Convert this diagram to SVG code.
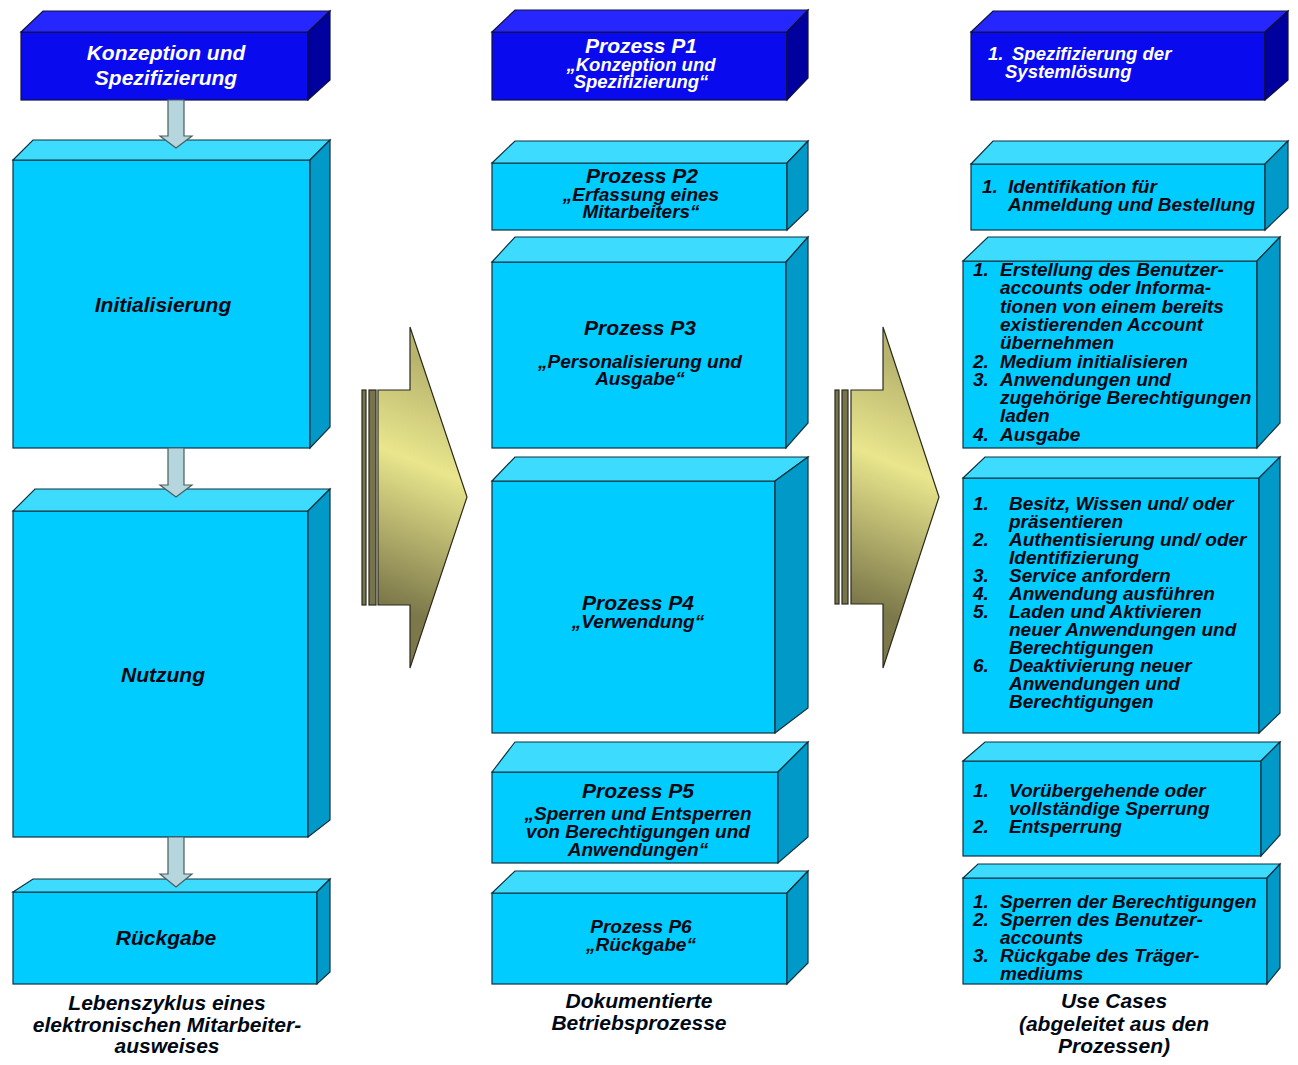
<svg xmlns="http://www.w3.org/2000/svg" width="1298" height="1065" viewBox="0 0 1298 1065">
<style>
.cf{fill:#00CCFF;stroke:#10303c;stroke-width:1.2}
.ct{fill:#3DDCFF;stroke:#10303c;stroke-width:1.2}
.cs{fill:#0099C8;stroke:#10303c;stroke-width:1.2}
.bf{fill:#0A0AEE;stroke:#10103c;stroke-width:1.2}
.bt{fill:#2626FF;stroke:#10103c;stroke-width:1.2}
.bs{fill:#00009E;stroke:#10103c;stroke-width:1.2}
text{font-family:"Liberation Sans",Arial,sans-serif;font-weight:bold;font-style:italic}
.k{fill:#000814}
.w{fill:#ffffff}
.c{text-anchor:middle}
.f21{font-size:21px}
.f19{font-size:19px}
.f18{font-size:18.5px}
.sa{fill:#B4D6DC;stroke:#4a5c60;stroke-width:1.2}
.bar{fill:#77734A;stroke:#2a2a1e;stroke-width:1.2}
.big{stroke:#2a2a1e;stroke-width:1.2}
</style>
<defs>
<linearGradient id="g1" gradientUnits="userSpaceOnUse" x1="378" y1="600" x2="467" y2="380">
<stop offset="0" stop-color="#7C784A"/>
<stop offset="0.6" stop-color="#E9E68D"/>
<stop offset="1" stop-color="#B8B46E"/>
</linearGradient>
<linearGradient id="g2" gradientUnits="userSpaceOnUse" x1="851" y1="600" x2="940" y2="380">
<stop offset="0" stop-color="#7C784A"/>
<stop offset="0.6" stop-color="#E9E68D"/>
<stop offset="1" stop-color="#B8B46E"/>
</linearGradient>
</defs>
<rect width="1298" height="1065" fill="#ffffff"/>

<!-- Left column -->
<g id="left-header">
<rect class="bf" x="21" y="32" width="287" height="68"/>
<polygon class="bt" points="21,32 43,11 330,11 308,32"/>
<polygon class="bs" points="308,32 330,11 330,80 308,100"/>
<text class="w c f21" x="166" y="60">Konzeption und</text>
<text class="w c f21" x="166" y="85">Spezifizierung</text>
</g>
<g id="initialisierung">
<rect class="cf" x="13" y="160" width="297" height="288"/>
<polygon class="ct" points="13,160 33,140 330,140 310,160"/>
<polygon class="cs" points="310,160 330,140 330,427 310,448"/>
<text class="k c f21" x="163" y="312">Initialisierung</text>
</g>
<g id="nutzung">
<rect class="cf" x="13" y="511" width="295" height="326"/>
<polygon class="ct" points="13,511 35,489 330,489 308,511"/>
<polygon class="cs" points="308,511 330,489 330,820 308,837"/>
<text class="k c f21" x="163" y="682">Nutzung</text>
</g>
<g id="rueckgabe">
<rect class="cf" x="13" y="892" width="304" height="92"/>
<polygon class="ct" points="13,892 33,879 330,879 317,892"/>
<polygon class="cs" points="317,892 330,879 330,972 317,984"/>
<text class="k c f21" x="166" y="945">Rückgabe</text>
</g>
<g id="caption-left">
<text class="k c f21" x="167" y="1010">Lebenszyklus eines</text>
<text class="k c f21" x="167" y="1032">elektronischen Mitarbeiter-</text>
<text class="k c f21" x="167" y="1053">ausweises</text>
</g>

<!-- Middle column -->
<g id="p1">
<rect class="bf" x="492" y="32" width="295" height="68"/>
<polygon class="bt" points="492,32 515,10 808,10 787,32"/>
<polygon class="bs" points="787,32 808,10 808,78 787,100"/>
<text class="w c f21" x="641" y="53">Prozess P1</text>
<text class="w c f18" x="641" y="71">„Konzeption und</text>
<text class="w c f18" x="641" y="88">Spezifizierung“</text>
</g>
<g id="p2">
<rect class="cf" x="492" y="163" width="295" height="67"/>
<polygon class="ct" points="492,163 515,141 808,141 787,163"/>
<polygon class="cs" points="787,163 808,141 808,210 787,230"/>
<text class="k c f21" x="642" y="183">Prozess P2</text>
<text class="k c f19" x="641" y="201">„Erfassung eines</text>
<text class="k c f19" x="641" y="218">Mitarbeiters“</text>
</g>
<g id="p3">
<rect class="cf" x="492" y="262" width="294" height="186"/>
<polygon class="ct" points="492,262 515,237 808,237 786,262"/>
<polygon class="cs" points="786,262 808,237 808,423 786,448"/>
<text class="k c f21" x="640" y="335">Prozess P3</text>
<text class="k c f19" x="640" y="368">„Personalisierung und</text>
<text class="k c f19" x="640" y="385">Ausgabe“</text>
</g>
<g id="p4">
<rect class="cf" x="492" y="481" width="283" height="252"/>
<polygon class="ct" points="492,481 515,457 808,457 775,481"/>
<polygon class="cs" points="775,481 808,457 808,708 775,733"/>
<text class="k c f21" x="638" y="610">Prozess P4</text>
<text class="k c f19" x="638" y="628">„Verwendung“</text>
</g>
<g id="p5">
<rect class="cf" x="492" y="772" width="286" height="91"/>
<polygon class="ct" points="492,772 515,742 808,742 778,772"/>
<polygon class="cs" points="778,772 808,742 808,837 778,863"/>
<text class="k c f21" x="638" y="798">Prozess P5</text>
<text class="k c f19" x="638" y="820">„Sperren und Entsperren</text>
<text class="k c f19" x="638" y="838">von Berechtigungen und</text>
<text class="k c f19" x="638" y="856">Anwendungen“</text>
</g>
<g id="p6">
<rect class="cf" x="492" y="893" width="295" height="91"/>
<polygon class="ct" points="492,893 515,871 808,871 787,893"/>
<polygon class="cs" points="787,893 808,871 808,963 787,984"/>
<text class="k c f19" x="641" y="933">Prozess P6</text>
<text class="k c f19" x="641" y="951">„Rückgabe“</text>
</g>
<g id="caption-middle">
<text class="k c f21" x="639" y="1008">Dokumentierte</text>
<text class="k c f21" x="639" y="1030">Betriebsprozesse</text>
</g>

<!-- Right column -->
<g id="uc-header">
<rect class="bf" x="971" y="32" width="294" height="68"/>
<polygon class="bt" points="971,32 993,11 1288,11 1265,32"/>
<polygon class="bs" points="1265,32 1288,11 1288,80 1265,100"/>
<text class="w f18" x="988" y="60">1.</text>
<text class="w f18" x="1012" y="60">Spezifizierung der</text>
<text class="w f18" x="1005" y="78">Systemlösung</text>
</g>
<g id="uc1">
<rect class="cf" x="971" y="164" width="294" height="66"/>
<polygon class="ct" points="971,164 993,141 1288,141 1265,164"/>
<polygon class="cs" points="1265,164 1288,141 1288,208 1265,230"/>
<text class="k f19" x="982" y="193">1.</text>
<text class="k f19" x="1008" y="193">Identifikation für</text>
<text class="k f19" x="1008" y="211">Anmeldung und Bestellung</text>
</g>
<g id="uc2">
<rect class="cf" x="963" y="261" width="294" height="187"/>
<polygon class="ct" points="963,261 988,237 1280,237 1257,261"/>
<polygon class="cs" points="1257,261 1280,237 1280,423 1257,448"/>
<text class="k f19" x="973" y="276">1.</text>
<text class="k f19" x="1000" y="276">Erstellung des Benutzer-</text>
<text class="k f19" x="1000" y="294.3">accounts oder Informa-</text>
<text class="k f19" x="1000" y="312.6">tionen von einem bereits</text>
<text class="k f19" x="1000" y="330.9">existierenden Account</text>
<text class="k f19" x="1000" y="349.2">übernehmen</text>
<text class="k f19" x="973" y="367.5">2.</text>
<text class="k f19" x="1000" y="367.5">Medium initialisieren</text>
<text class="k f19" x="973" y="385.8">3.</text>
<text class="k f19" x="1000" y="385.8">Anwendungen und</text>
<text class="k f19" x="1000" y="404.1">zugehörige Berechtigungen</text>
<text class="k f19" x="1000" y="422.4">laden</text>
<text class="k f19" x="973" y="440.7">4.</text>
<text class="k f19" x="1000" y="440.7">Ausgabe</text>
</g>
<g id="uc3">
<rect class="cf" x="963" y="478" width="296" height="255"/>
<polygon class="ct" points="963,478 985,457 1280,457 1259,478"/>
<polygon class="cs" points="1259,478 1280,457 1280,713 1259,733"/>
<text class="k f19" x="973" y="510">1.</text>
<text class="k f19" x="1009" y="510">Besitz, Wissen und/ oder</text>
<text class="k f19" x="1009" y="528">präsentieren</text>
<text class="k f19" x="973" y="546">2.</text>
<text class="k f19" x="1009" y="546">Authentisierung und/ oder</text>
<text class="k f19" x="1009" y="564">Identifizierung</text>
<text class="k f19" x="973" y="582">3.</text>
<text class="k f19" x="1009" y="582">Service anfordern</text>
<text class="k f19" x="973" y="600">4.</text>
<text class="k f19" x="1009" y="600">Anwendung ausführen</text>
<text class="k f19" x="973" y="618">5.</text>
<text class="k f19" x="1009" y="618">Laden und Aktivieren</text>
<text class="k f19" x="1009" y="636">neuer Anwendungen und</text>
<text class="k f19" x="1009" y="654">Berechtigungen</text>
<text class="k f19" x="973" y="672">6.</text>
<text class="k f19" x="1009" y="672">Deaktivierung neuer</text>
<text class="k f19" x="1009" y="690">Anwendungen und</text>
<text class="k f19" x="1009" y="708">Berechtigungen</text>
</g>
<g id="uc4">
<rect class="cf" x="963" y="761" width="298" height="95"/>
<polygon class="ct" points="963,761 985,742 1280,742 1261,761"/>
<polygon class="cs" points="1261,761 1280,742 1280,835 1261,856"/>
<text class="k f19" x="973" y="797">1.</text>
<text class="k f19" x="1009" y="797">Vorübergehende oder</text>
<text class="k f19" x="1009" y="815">vollständige Sperrung</text>
<text class="k f19" x="973" y="832.5">2.</text>
<text class="k f19" x="1009" y="832.5">Entsperrung</text>
</g>
<g id="uc5">
<rect class="cf" x="963" y="878" width="304" height="106"/>
<polygon class="ct" points="963,878 978,864 1280,864 1267,878"/>
<polygon class="cs" points="1267,878 1280,864 1280,968 1267,984"/>
<text class="k f19" x="973" y="908">1.</text>
<text class="k f19" x="1000" y="908">Sperren der Berechtigungen</text>
<text class="k f19" x="973" y="926">2.</text>
<text class="k f19" x="1000" y="926">Sperren des Benutzer-</text>
<text class="k f19" x="1000" y="944">accounts</text>
<text class="k f19" x="973" y="962">3.</text>
<text class="k f19" x="1000" y="962">Rückgabe des Träger-</text>
<text class="k f19" x="1000" y="980">mediums</text>
</g>
<g id="caption-right">
<text class="k c f21" x="1114" y="1008">Use Cases</text>
<text class="k c f21" x="1114" y="1031">(abgeleitet aus den</text>
<text class="k c f21" x="1114" y="1053">Prozessen)</text>
</g>

<!-- Connectors -->
<g id="connectors">
<polygon class="sa" points="168,100 184,100 184,136 192,136 176,148 160,136 168,136"/>
<polygon class="sa" points="168,448 184,448 184,485 192,485 176,497 160,485 168,485"/>
<polygon class="sa" points="168,837 184,837 184,874 192,874 176,887 160,874 168,874"/>
<rect class="bar" x="362" y="390" width="4" height="215"/>
<rect class="bar" x="369" y="390" width="7" height="215"/>
<polygon class="big" fill="url(#g1)" points="378,390 410,390 410,327 467,497 410,668 410,605 378,605"/>
<rect class="bar" x="835" y="390" width="4" height="214"/>
<rect class="bar" x="842" y="390" width="6" height="214"/>
<polygon class="big" fill="url(#g2)" points="851,390 883,390 883,327 939,497 883,668 883,604 851,604"/>
</g>
</svg>
